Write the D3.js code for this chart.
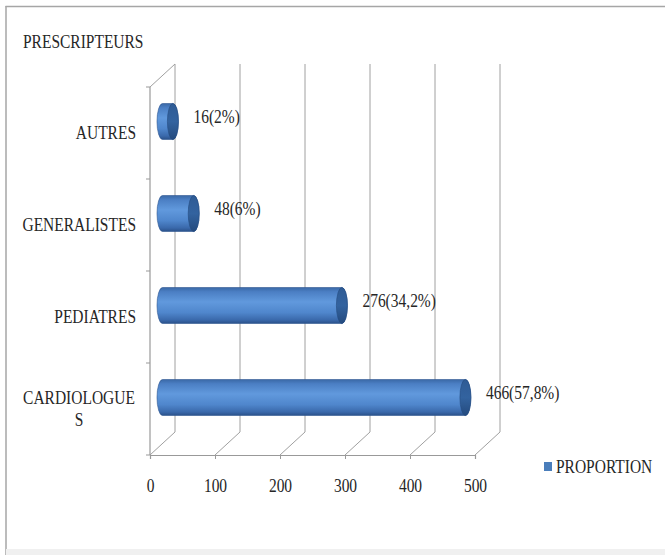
<!DOCTYPE html>
<html>
<head>
<meta charset="utf-8">
<script src="https://cdn.jsdelivr.net/npm/d3@7"></script>
<style>
html,body{margin:0;padding:0;background:#fff;}
svg{display:block;}
</style>
</head>
<body>
<script>
const categories = ["AUTRES", "GENERALISTES", "PEDIATRES", "CARDIOLOGUES"];
const categoryLines = [["AUTRES"], ["GENERALISTES"], ["PEDIATRES"], ["CARDIOLOGUE", "S"]];
const values = [16, 48, 276, 466];
const valueLabels = ["16(2%)", "48(6%)", "276(34,2%)", "466(57,8%)"];
const tickValues = [0, 100, 200, 300, 400, 500];
const yTitle = "PRESCRIPTEURS";
const seriesName = "PROPORTION";

const W = 665, H = 555;
const FS = 19, SX = 0.815;
const FF = "'Liberation Serif', 'Times New Roman', serif";
const svg = d3.select("body").append("svg").attr("width", W).attr("height", H)
  .style("font-family", FF);

svg.append("line").attr("x1",5.5).attr("x2",W).attr("y1",6.5).attr("y2",6.5).attr("stroke","#a6a6a6").attr("stroke-width",1.5);
svg.append("line").attr("x1",6).attr("x2",6).attr("y1",6).attr("y2",H).attr("stroke","#a6a6a6").attr("stroke-width",1.5);
svg.append("rect").attr("x",6).attr("y",549).attr("width",W).attr("height",6).attr("fill","#f0f0f0");

const x = d3.scaleLinear().domain([0, 500]).range([150, 475]);
const y = d3.scaleBand().domain(categories).range([87, 455]).padding(0);
const dx = 25, dy = -23;
const grid = "#a0a0a0";

const defs = svg.append("defs");
const g1 = defs.append("linearGradient").attr("id","body").attr("x1",0).attr("y1",0).attr("x2",0).attr("y2",1);
[[0,"#3a68a6"],[0.12,"#4b7fc4"],[0.4,"#6199dd"],[0.7,"#4f86cc"],[0.9,"#3a69ab"],[1,"#2a5189"]].forEach(([o,c])=>g1.append("stop").attr("offset",o).attr("stop-color",c));
const g2 = defs.append("linearGradient").attr("id","cap").attr("x1",0).attr("y1",0).attr("x2",0).attr("y2",1);
[[0,"#2f5b95"],[0.5,"#33639f"],[1,"#244a7e"]].forEach(([o,c])=>g2.append("stop").attr("offset",o).attr("stop-color",c));

svg.selectAll(".vg").data(tickValues).join("line")
  .attr("x1", d => x(d) + dx).attr("x2", d => x(d) + dx)
  .attr("y1", y.range()[0] + dy).attr("y2", y.range()[1] + dy)
  .attr("stroke", grid).attr("stroke-width", 1);
svg.selectAll(".fd").data(tickValues).join("line")
  .attr("x1", d => x(d)).attr("x2", d => x(d) + dx)
  .attr("y1", y.range()[1]).attr("y2", y.range()[1] + dy)
  .attr("stroke", grid).attr("stroke-width", 1);
svg.append("line").attr("x1", x(0)).attr("x2", x(0)+dx).attr("y1", y.range()[0]).attr("y2", y.range()[0]+dy)
  .attr("stroke", grid).attr("stroke-width", 1);
svg.append("line").attr("x1", x(0)).attr("x2", x(0)).attr("y1", y.range()[0]).attr("y2", y.range()[1])
  .attr("stroke", "#999").attr("stroke-width", 1.2);
const yEdges = categories.map(c => y(c)).concat([y.range()[1]]);
svg.selectAll(".lt").data(yEdges).join("line")
  .attr("x1", x(0) - 4).attr("x2", x(0)).attr("y1", d => d).attr("y2", d => d)
  .attr("stroke", "#999");

const xAxis = d3.axisBottom(x).tickValues(tickValues).tickSize(4).tickPadding(20).tickFormat(d3.format("d"));
const ax = svg.append("g").attr("transform", `translate(0,${y.range()[1]})`).call(xAxis)
  .attr("font-family", FF).attr("font-size", FS);
ax.select(".domain").attr("stroke", "#999").attr("stroke-width", 1.2);
ax.selectAll(".tick line").attr("stroke", "#999");
ax.selectAll(".tick text").attr("fill", "#262626").attr("transform", `scale(${SX},1)`);

function addText(tx, ty, str, anchor) {
  return svg.append("text").attr("transform", `translate(${tx},${ty}) scale(${SX},1)`)
    .attr("text-anchor", anchor || "start").attr("font-size", FS).attr("font-family", FF)
    .attr("fill", "#262626").text(str);
}

const barH = 36, rx = 5.5;
const bars = svg.append("g");
categories.forEach((c, i) => {
  const cy = y(c) + y.bandwidth() / 2 + dy / 2;
  const x0 = x(0) + dx / 2, x1 = x(values[i]) + dx / 2;
  const top = cy - barH / 2, bot = cy + barH / 2, ry = barH / 2;
  const path = `M${x0},${top} L${x1},${top} A${rx},${ry} 0 0 1 ${x1},${bot} L${x0},${bot} A${rx},${ry} 0 0 1 ${x0},${top} Z`;
  bars.append("path").attr("d", path).attr("fill", "url(#body)").attr("stroke", "#2d5690").attr("stroke-width", 0.6);
  bars.append("ellipse").attr("cx", x1).attr("cy", cy).attr("rx", rx).attr("ry", ry)
    .attr("fill", "url(#cap)").attr("stroke", "#254b80").attr("stroke-width", 0.6);
  addText(x1 + rx + 15, cy + 1, valueLabels[i]);
  const lines = categoryLines[i];
  const bc = y(c) + y.bandwidth() / 2;
  if (lines.length === 1) {
    addText(136, bc + 6, lines[0], "end");
  } else {
    lines.forEach((l, k) => addText(79, bc - 5 + k * 22, l, "middle"));
  }
});

addText(23, 48, yTitle);

svg.append("rect").attr("x", 544).attr("y", 462).attr("width", 8).attr("height", 9).attr("fill", "#4a7ebb");
addText(556, 473, seriesName);
</script>
</body>
</html>
